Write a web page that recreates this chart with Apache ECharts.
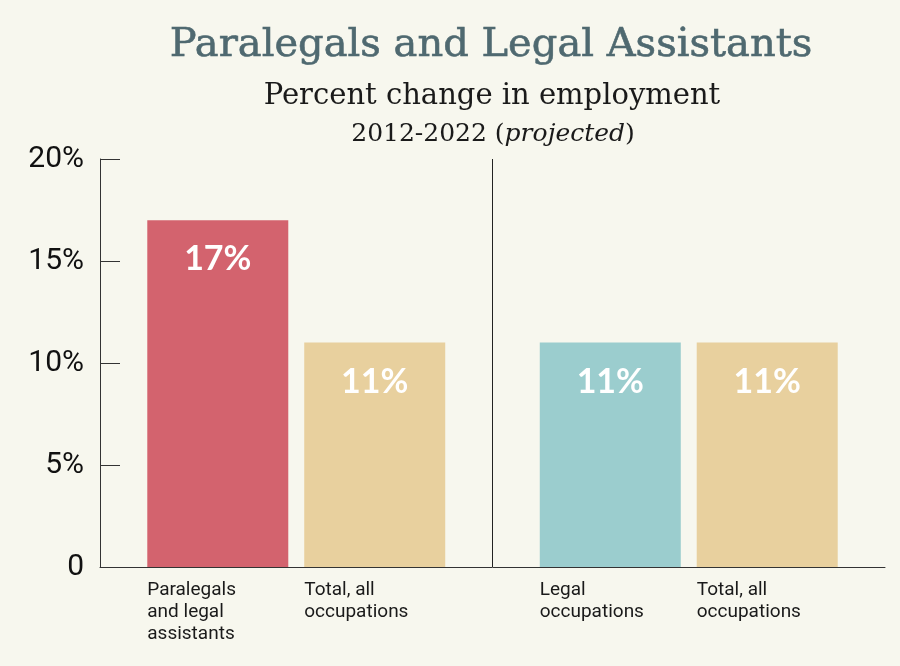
<!DOCTYPE html>
<html>
<head>
<meta charset="utf-8">
<script src="https://cdn.jsdelivr.net/npm/echarts@6/dist/echarts.min.js"></script>
<style>
html,body{margin:0;padding:0;background:#F7F7EE;}
#chart{width:900px;height:666px;}
</style>
</head>
<body>
<div id="chart"></div>
<script>
const groups = ['Paralegals vs. all occupations', 'Legal occupations vs. all occupations'];
const leftNames = ['Paralegals\nand legal\nassistants', 'Legal\noccupations'];
const rightNames = ['Total, all\noccupations', 'Total, all\noccupations'];
const leftValues = [17, 11];
const rightValues = [11, 11];
const leftColors = ['#D3636E', '#9BCDCE'];
const rightColor = '#E8D09E';
const yTicks = [0, 5, 10, 15, 20];

const chart = echarts.init(document.getElementById('chart'));

function richLabel(i) {
  const a = leftNames[i].split('\n');
  const b = rightNames[i].split('\n');
  const n = Math.max(a.length, b.length);
  const lines = [];
  for (let k = 0; k < n; k++) {
    lines.push('{a|' + (a[k] || ' ') + '}{b|' + (b[k] || ' ') + '}');
  }
  return lines.join('\n');
}

const labelFont = { fontFamily: 'Roboto', fontSize: 19, color: '#1a1a1a', lineHeight: 22 };

chart.setOption({
  backgroundColor: '#F7F7EE',
  graphic: [
    { type: 'text', x: 491, y: 46, style: { text: 'Paralegals and Legal Assistants', textAlign: 'center', textVerticalAlign: 'middle',
      fontFamily: 'DejaVu Serif', fontSize: 40, fontWeight: 'normal', fill: '#4F6970', stroke: '#4F6970', lineWidth: 0.6 } },
    { type: 'text', x: 492, y: 96, style: { text: 'Percent change in employment', textAlign: 'center', textVerticalAlign: 'middle',
      fontFamily: 'DejaVu Serif', fontSize: 29, fontWeight: 'normal', fill: '#1a1a1a' } },
    { type: 'text', x: 493, y: 134, style: { text: '{n|2012-2022 (}{i|projected}{n|)}', textAlign: 'center', textVerticalAlign: 'middle',
      rich: {
        n: { fontFamily: 'DejaVu Serif', fontSize: 25, fontWeight: 'normal', fill: '#1a1a1a' },
        i: { fontFamily: 'DejaVu Serif', fontSize: 25, fontWeight: 'normal', fontStyle: 'italic', fill: '#1a1a1a' }
      } } }
  ],
  grid: { left: 100, right: 15, top: 159, bottom: 99, containLabel: false },
  xAxis: {
    type: 'category',
    data: groups,
    boundaryGap: true,
    axisLine: { show: true, lineStyle: { color: '#333', width: 1 } },
    axisTick: { show: false },
    splitLine: { show: true, showMinLine: false, showMaxLine: false, lineStyle: { color: '#222', width: 1 } },
    axisLabel: {
      margin: 12,
      formatter: function (v, i) { return richLabel(i); },
      rich: {
        a: Object.assign({ width: 157, align: 'left' }, labelFont),
        b: Object.assign({ width: 141, align: 'left' }, labelFont)
      }
    }
  },
  yAxis: {
    type: 'value',
    min: 0, max: 20, interval: 5,
    axisLine: { show: true, lineStyle: { color: '#333', width: 1 } },
    axisTick: { show: true, inside: true, length: 20, lineStyle: { color: '#333' } },
    splitLine: { show: false },
    axisLabel: {
      margin: 16,
      fontFamily: 'Roboto', fontSize: 30, color: '#111',
      formatter: function (v) { return yTicks.indexOf(v) >= 0 ? (v === 0 ? '0' : v + '%') : ''; }
    }
  },
  series: [
    {
      type: 'bar',
      name: 'Occupation',
      barWidth: 141,
      barGap: '11.3%',
      data: leftValues.map((v, i) => ({ value: v, name: leftNames[i], itemStyle: { color: leftColors[i] } })),
      label: { show: true, position: 'insideTop', distance: 22, formatter: '{c}%',
        fontFamily: 'Lato', fontWeight: 'bold', fontSize: 34, color: '#fff' }
    },
    {
      type: 'bar',
      name: 'Total, all occupations',
      barWidth: 141,
      barGap: '11.3%',
      data: rightValues.map((v, i) => ({ value: v, name: rightNames[i], itemStyle: { color: rightColor } })),
      label: { show: true, position: 'insideTop', distance: 22, formatter: '{c}%',
        fontFamily: 'Lato', fontWeight: 'bold', fontSize: 34, color: '#fff' }
    }
  ]
});
</script>
</body>
</html>
